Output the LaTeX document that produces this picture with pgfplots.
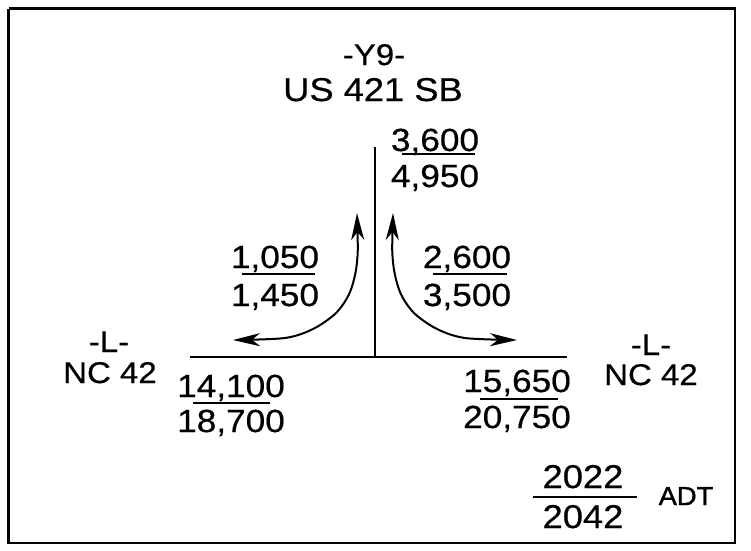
\documentclass[border=0pt]{standalone}
\usepackage{pgfplots}
\pgfplotsset{compat=1.18}
\usepackage{fontspec}
\setmainfont{Liberation Sans}[FakeStretch=1.1, FakeBold=0.5]
\newfontfamily\adtfont{Liberation Sans}[FakeStretch=1.05, FakeBold=1.4]
\usetikzlibrary{arrows.meta}
\begin{document}
\begin{tikzpicture}
\begin{axis}[
  width=751pt, height=550pt, scale only axis,
  xmin=0, xmax=751, ymin=0, ymax=550, y dir=reverse,
  hide axis, clip=false,
  every node/.style={inner sep=0pt},
]
\addplot[draw=none, forget plot] coordinates {(0,0) (751,550)};
% frame
\addplot[black, line width=2.5pt] coordinates {(8.5,8.5) (735,8.5) (735,543) (8.5,543) (8.5,8.5)};
% roads
\addplot[black, line width=2pt] coordinates {(375,147) (375,357)};
\addplot[black, line width=2pt] coordinates {(190,357) (567,357)};
% turning movement arrows
\addplot[black, line width=2pt, smooth, {Stealth[length=27pt,width=13pt,inset=8pt]}-{Stealth[length=27pt,width=13pt,inset=8pt]}]
  coordinates {(357,213) (357,262) (350,292) (336,313) (313,329) (285,338) (233,340)};
\addplot[black, line width=2pt, smooth, {Stealth[length=27pt,width=13pt,inset=8pt]}-{Stealth[length=27pt,width=13pt,inset=8pt]}]
  coordinates {(393,213) (393,262) (400,292) (414,313) (437,329) (465,338) (517,340)};
% fraction lines
\addplot[black, line width=2pt] coordinates {(402,154) (475,154)};
\addplot[black, line width=2pt] coordinates {(242,274) (315,274)};
\addplot[black, line width=2pt] coordinates {(433,274) (507,274)};
\addplot[black, line width=2pt] coordinates {(193,403) (270,403)};
\addplot[black, line width=2pt] coordinates {(480,399) (558,399)};
\addplot[black, line width=2pt] coordinates {(533,497) (637,497)};
% labels
\node[anchor=base, font=\fontsize{30}{32}\selectfont] at (axis cs:374,65) {-Y9-};
\node[anchor=base, font=\fontsize{33}{36}\selectfont] at (axis cs:373,101) {US 421 SB};
\node[anchor=base, font=\fontsize{30}{32}\selectfont] at (axis cs:109,352) {-L-};
\node[anchor=base, font=\fontsize{30}{32}\selectfont] at (axis cs:110,383) {NC 42};
\node[anchor=base, font=\fontsize{30}{32}\selectfont] at (axis cs:651,355) {-L-};
\node[anchor=base, font=\fontsize{30}{32}\selectfont] at (axis cs:651,385) {NC 42};
% volumes
\node[anchor=base, font=\fontsize{32}{34}\selectfont] at (axis cs:435,151) {3,600};
\node[anchor=base, font=\fontsize{32}{34}\selectfont] at (axis cs:435,187) {4,950};
\node[anchor=base, font=\fontsize{32}{34}\selectfont] at (axis cs:275,268) {1,050};
\node[anchor=base, font=\fontsize{32}{34}\selectfont] at (axis cs:275,306) {1,450};
\node[anchor=base, font=\fontsize{32}{34}\selectfont] at (axis cs:467,268) {2,600};
\node[anchor=base, font=\fontsize{32}{34}\selectfont] at (axis cs:467,306) {3,500};
\node[anchor=base, font=\fontsize{32}{34}\selectfont] at (axis cs:231,397) {14,100};
\node[anchor=base, font=\fontsize{32}{34}\selectfont] at (axis cs:231,432) {18,700};
\node[anchor=base, font=\fontsize{32}{34}\selectfont] at (axis cs:517,392) {15,650};
\node[anchor=base, font=\fontsize{32}{34}\selectfont] at (axis cs:517,428) {20,750};
% legend
\node[anchor=base, font=\fontsize{33}{35}\selectfont] at (axis cs:583,488) {2022};
\node[anchor=base, font=\fontsize{33}{35}\selectfont] at (axis cs:583,528) {2042};
\node[anchor=base, font=\adtfont\fontsize{26}{28}\selectfont] at (axis cs:686,505) {ADT};
\end{axis}
\end{tikzpicture}
\end{document}
